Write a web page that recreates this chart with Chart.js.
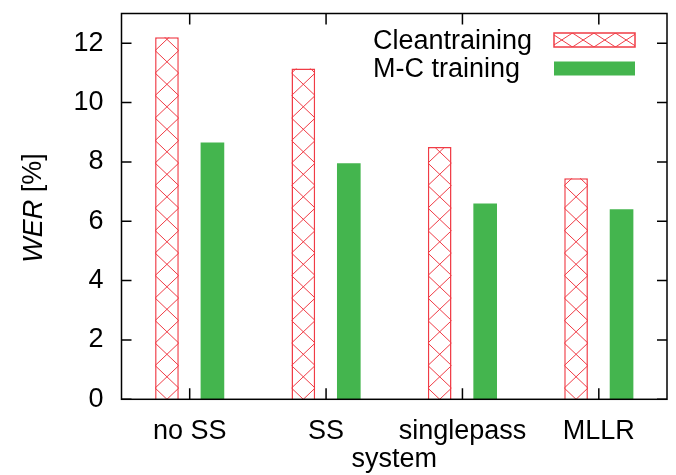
<!DOCTYPE html>
<html>
<head>
<meta charset="utf-8">
<script src="https://cdn.jsdelivr.net/npm/chart.js@4.4.0/dist/chart.umd.min.js"></script>
<style>
  html, body { margin: 0; padding: 0; background: #fff; }
  #wrap { width: 676px; height: 475px; }
</style>
</head>
<body>
<div id="wrap"><canvas id="werChart" width="676" height="475"></canvas></div>
<script>
// Chart data
const systems = ['no SS', 'SS', 'singlepass', 'MLLR'];
const cleanWer = [12.2, 11.15, 8.5, 7.45];
const mcWer = [8.65, 7.95, 6.6, 6.4];
const seriesNames = ['Cleantraining', 'M-C training'];
const yTicks = [0, 2, 4, 6, 8, 10, 12];
const yMax = 13;

const RED = '#f03c46';
const GREEN = '#44b54e';
const FONT = '"Liberation Sans", Arial, sans-serif';

// gnuplot-like crosshatch inside a rect, crossings anchored at (cx0, cy0)
function hatchRect(ctx, left, top, w, h, cx0, cy0, W, H) {
  const s = H / W;
  ctx.save();
  ctx.beginPath();
  ctx.rect(left, top, w, h);
  ctx.clip();
  ctx.strokeStyle = RED;
  ctx.lineWidth = 1;
  ctx.beginPath();
  const span = Math.abs(s) * (w + Math.abs(left - cx0) + W);
  const n0 = Math.floor((top - cy0 - span) / H) - 1;
  const n1 = Math.ceil((top + h - cy0 + span) / H) + 1;
  const x1 = left, x2 = left + w;
  for (let n = n0; n <= n1; n++) {
    const b = cy0 + n * H;
    ctx.moveTo(x1, b + s * (x1 - cx0)); ctx.lineTo(x2, b + s * (x2 - cx0));
    ctx.moveTo(x1, b - s * (x1 - cx0)); ctx.lineTo(x2, b - s * (x2 - cx0));
  }
  ctx.stroke();
  ctx.restore();
}

const hatchPlugin = {
  id: 'hatch',
  afterDatasetsDraw(chart) {
    const ctx = chart.ctx;
    chart.getDatasetMeta(0).data.forEach(el => {
      const { x, y, base, width } = el.getProps(['x', 'y', 'base', 'width'], true);
      hatchRect(ctx, x - width / 2, y, width, base - y, x, base, width, 22.5);
    });
  }
};

// frame, inward ticks, key and axis titles
const framePlugin = {
  id: 'frame',
  afterDraw(chart) {
    const { ctx, chartArea: a, scales: { x, y } } = chart;
    ctx.save();
    ctx.strokeStyle = '#000';
    ctx.lineWidth = 1.5;
    ctx.strokeRect(a.left, a.top, a.right - a.left, a.bottom - a.top);

    ctx.beginPath();
    y.ticks.forEach(t => {
      const py = y.getPixelForValue(t.value);
      ctx.moveTo(a.left, py); ctx.lineTo(a.left + 10, py);
      ctx.moveTo(a.right, py); ctx.lineTo(a.right - 10, py);
    });
    systems.forEach((s, i) => {
      const px = x.getPixelForValue(i);
      ctx.moveTo(px, a.bottom); ctx.lineTo(px, a.bottom - 11);
      ctx.moveTo(px, a.top); ctx.lineTo(px, a.top + 11);
    });
    ctx.stroke();

    // key
    ctx.fillStyle = '#000';
    ctx.font = '27px ' + FONT;
    ctx.textAlign = 'left';
    ctx.textBaseline = 'alphabetic';
    ctx.fillText(seriesNames[0], 373, 49);
    ctx.fillText(seriesNames[1], 373, 77);

    hatchRect(ctx, 554, 33, 81, 14, 561.7, 40, 21.5, 14);
    ctx.strokeStyle = RED;
    ctx.lineWidth = 1.5;
    ctx.strokeRect(554, 33, 81, 14);
    ctx.fillStyle = GREEN;
    ctx.fillRect(554, 61.5, 81, 14);

    // y title: italic WER + [%]
    ctx.fillStyle = '#000';
    ctx.translate(34, 208);
    ctx.rotate(-Math.PI / 2);
    ctx.textBaseline = 'middle';
    const italic = 'italic 27px ' + FONT;
    const normal = '27px ' + FONT;
    ctx.font = italic;
    const w1 = ctx.measureText('WER').width;
    ctx.font = normal;
    const w2 = ctx.measureText(' [%]').width;
    let sx = -(w1 + w2) / 2;
    ctx.font = italic;
    ctx.fillText('WER', sx, 0);
    ctx.font = normal;
    ctx.fillText(' [%]', sx + w1, 0);
    ctx.setTransform(1, 0, 0, 1, 0, 0);

    // x title
    ctx.textAlign = 'center';
    ctx.textBaseline = 'alphabetic';
    ctx.fillText('system', (a.left + a.right) / 2, 467);
    ctx.restore();
  }
};

new Chart(document.getElementById('werChart'), {
  type: 'bar',
  data: {
    labels: systems,
    datasets: [{
      label: seriesNames[0],
      data: cleanWer,
      backgroundColor: '#fff',
      borderColor: RED,
      borderWidth: 1.5
    }, {
      label: seriesNames[1],
      data: mcWer,
      backgroundColor: GREEN,
      borderWidth: 0
    }]
  },
  options: {
    responsive: false,
    animation: false,
    categoryPercentage: 0.667,
    barPercentage: 0.52,
    layout: { padding: { top: 13.5, right: 9, left: 0, bottom: 0 } },
    plugins: {
      legend: { display: false },
      tooltip: { enabled: false }
    },
    scales: {
      x: {
        grid: { display: false, drawTicks: false },
        border: { display: false },
        ticks: {
          color: '#000',
          font: { family: FONT, size: 27 },
          padding: 16,
          maxRotation: 0,
          autoSkip: false
        },
        afterFit(scale) {
          scale.height = 75.7;
          scale.paddingLeft = 0;
          scale.paddingRight = 0;
        }
      },
      y: {
        min: 0,
        max: yMax,
        grid: { display: false, drawTicks: false },
        border: { display: false },
        ticks: {
          color: '#000',
          font: { family: FONT, size: 27 },
          padding: 18
        },
        afterBuildTicks(scale) { scale.ticks = yTicks.map(v => ({ value: v })); },
        afterFit(scale) {
          scale.width = 121.5;
          scale.paddingTop = 0;
          scale.paddingBottom = 0;
        }
      }
    }
  },
  plugins: [hatchPlugin, framePlugin]
});
</script>
</body>
</html>
